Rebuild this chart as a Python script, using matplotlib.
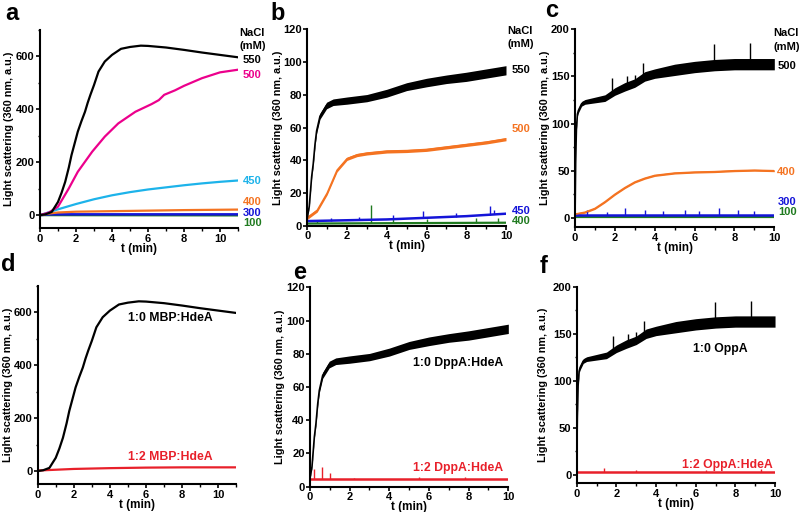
import numpy as np
import matplotlib
matplotlib.use("Agg")
import matplotlib.pyplot as plt
from matplotlib.ticker import MultipleLocator

plt.rcParams['font.family'] = ['Liberation Sans', 'DejaVu Sans']
plt.rcParams['font.weight'] = 'bold'

# colours
BLACK = '#000000'
PINK = '#ec008c'
CYAN = '#1db3ea'
ORANGE = '#f47321'
BLUE = '#1414d8'
GREEN = '#1f7a1f'
RED = '#e8202a'

# ---------------- data ----------------
# panel a / d : MBP
t_mbp550 = [0, 0.3, 0.65, 1.0, 1.2, 1.4, 1.6, 1.75, 1.9, 2.1, 2.3, 2.5, 2.65, 2.8, 3.0, 3.25, 3.6, 4.0, 4.5, 5.0, 5.6, 6.0, 7.0, 8.0, 9.0, 10.0, 11.0]
mbp550 = [0, 3, 12, 50, 85, 126, 180, 227, 265, 316, 355, 391, 425, 455, 492, 543, 581, 606, 629, 636, 641, 640, 634, 625, 615, 606, 597]
t_mbp500 = [0, 0.5, 1.0, 1.6, 2.1, 2.9, 3.6, 4.35, 5.3, 6.2, 6.6, 6.9, 7.5, 8, 9, 10, 11]
mbp500 = [0, 10, 32, 101, 164, 240, 297, 347, 391, 420, 435, 455, 472, 489, 518, 540, 550]
t_mbp450 = [0, 1, 2, 3, 4, 5, 6, 7, 8, 9, 10, 11]
mbp450 = [0, 22, 42, 60, 75, 87, 97, 105, 113, 120, 126, 131]
t_mbp400 = [0, 0.5, 1, 2, 4, 6, 8, 11]
mbp400 = [0, 6, 10, 13, 15, 17, 19, 21]
t_mbp300 = [0, 0.5, 11]
mbp300 = [0, 3, 3]
t_mbp100 = [0, 11]
mbp100 = [0, -1]
t_mbp_hdea = [0, 1, 2, 4, 6, 8, 11]
mbp_hdea = [2, 5, 8, 11, 13, 14, 14]

# panel b / e : DppA
t_dpp550 = [0, 0.1, 0.22, 0.3, 0.39, 0.47, 0.64, 0.97, 1.3, 2, 3, 4, 5, 6, 7, 8, 9, 10]
dpp550 = [5, 12, 30, 38, 50, 58, 67, 73.5, 75.5, 76.5, 78, 81, 85, 87.5, 89.5, 91, 93, 95]
dpp550_noise = [0.3, 0.5, 0.8, 1, 1.2, 1.5, 1.8, 2, 2, 2.2, 2.2, 2.4, 2.4, 2.6, 2.6, 2.8, 2.8, 2.8]
t_dpp500 = [0, 0.5, 1, 1.5, 2, 2.5, 3, 4, 5, 6, 7, 8, 9, 10]
dpp500 = [5, 9.5, 20, 34, 41, 43.3, 44.3, 45.5, 45.8, 46.5, 48, 49.5, 51, 53]
t_dpp450 = [0, 2, 4, 6, 8, 10]
dpp450 = [3, 3.5, 4, 5, 6, 7.5]
spk_t_dpp450 = [1.2, 2.6, 4.3, 5.8, 7.5, 9.2, 9.4]
spk_v_dpp450 = [5, 5.5, 6.5, 9, 8, 12, 10]
t_dpp400 = [0, 10]
dpp400 = [1.5, 2]
spk_t_dpp400 = [0.5, 3.2, 4.3, 6.0, 8.5, 9.6]
spk_v_dpp400 = [3, 13, 4, 4, 5, 5]
t_dpp_hdea = [0, 10]
dpp_hdea = [4.5, 4.5]
spk_t_dpp_hdea = [0.2, 0.6, 1.0, 2.2, 5.5, 7.8]
spk_v_dpp_hdea = [10.5, 12, 8, 5.5, 6, 6]

# panel c / f : OppA
t_opp500 = [0, 0.03, 0.07, 0.12, 0.17, 0.33, 0.5, 1, 1.5, 2, 2.5, 3, 3.5, 4, 5, 6, 7, 8, 9, 10]
opp500 = [0, 60, 95, 110, 114, 121, 123, 125, 127, 134, 139, 143, 150, 153, 157, 160, 162, 163, 163, 163]
opp500_noise = [0, 1.5, 2, 2, 2.5, 2.5, 2.5, 3, 3.5, 4, 4.5, 4.5, 5, 5, 6, 6, 6, 6, 6, 6]
spk_t_opp500 = [1.85, 2.6, 3.0, 3.4, 6.95, 8.8]
spk_v_opp500 = [148, 150, 152, 164, 184, 185]
t_opp400 = [0, 0.5, 1, 1.5, 2, 2.5, 3, 3.5, 4, 5, 6, 7, 8, 9, 10]
opp400 = [4, 6, 10, 17, 25, 32, 38, 42, 45, 47.5, 48.5, 49, 50, 50.5, 50]
t_opp300 = [0, 10]
opp300 = [3, 3]
spk_t_opp300 = [0.6, 1.6, 2.5, 3.5, 4.4, 5.5, 6.2, 7.2, 8.2, 9.0]
spk_v_opp300 = [8, 6, 10, 8, 7, 8, 7, 11, 8, 7]
t_opp100 = [0, 10]
opp100 = [1, 1]
t_opp_hdea = [0, 10]
opp_hdea = [3, 3]
spk_t_opp_hdea = [1.4, 3.0, 6.5, 9.3]
spk_v_opp_hdea = [7, 5, 5, 6]

YLAB = 'Light scattering (360 nm, a.u.)'
W, H = 800, 512


def px(x, y):
    return x / W, 1 - y / H


def style(ax, xmax, ylo, yhi, ymaj, ymin, labx):
    ax.set_xlim(0, xmax)
    ax.set_ylim(ylo, yhi)
    for s in ['top', 'right']:
        ax.spines[s].set_visible(False)
    for s in ['left', 'bottom']:
        ax.spines[s].set_linewidth(1.5)
    ax.xaxis.set_major_locator(MultipleLocator(2))
    ax.xaxis.set_minor_locator(MultipleLocator(1))
    ax.yaxis.set_major_locator(MultipleLocator(ymaj))
    if ymin:
        ax.yaxis.set_minor_locator(MultipleLocator(ymin))
    ax.tick_params(which='major', direction='out', length=3, width=1.2, labelsize=8, pad=0.8)
    ax.tick_params(which='minor', direction='out', length=1.8, width=1)
    ax.set_xlabel('t (min)', fontsize=8.5, fontweight='bold', labelpad=-0.6)
    ax.set_ylabel(YLAB, fontsize=7.8, fontweight='bold')
    ax.yaxis.set_label_coords(labx, 0.5)


def noisy(ax, t, v, n, c):
    t = np.array(t); v = np.array(v); n = np.array(n)
    ax.fill_between(t, v - n, v + n, color=c, lw=0)
    ax.plot(t, v, color=c, lw=1.2)


def spikes(ax, base_t, base_v, st, sv, c):
    b = np.interp(st, base_t, base_v)
    ax.vlines(st, b, sv, color=c, lw=1.0)


fig = plt.figure(figsize=(8, 5.12), dpi=100)

# axes positions from the reference pixels
ax_a = fig.add_axes([0.050, 0.554, 0.2475, 0.3873])
ax_b = fig.add_axes([0.3841, 0.5586, 0.2484, 0.3842])
ax_c = fig.add_axes([0.7188, 0.556, 0.2491, 0.3868])
ax_d = fig.add_axes([0.0471, 0.0541, 0.2483, 0.3879])
ax_e = fig.add_axes([0.3875, 0.0494, 0.2479, 0.3895])
ax_f = fig.add_axes([0.7209, 0.0561, 0.2479, 0.3839])

# ---- a ----
ax = ax_a
ax.plot(t_mbp100, mbp100, color=GREEN, lw=1.6)
ax.plot(t_mbp300, mbp300, color=BLUE, lw=1.8)
ax.plot(t_mbp400, mbp400, color=ORANGE, lw=1.6)
ax.plot(t_mbp450, mbp450, color=CYAN, lw=1.6)
ax.plot(t_mbp500, mbp500, color=PINK, lw=1.6)
ax.plot(t_mbp550, mbp550, color=BLACK, lw=1.6)
style(ax, 11, -50, 700, 200, 100, -0.131)

# ---- b ----
ax = ax_b
ax.plot(t_dpp400, dpp400, color=GREEN, lw=1.6)
spikes(ax, t_dpp400, dpp400, spk_t_dpp400, spk_v_dpp400, GREEN)
ax.plot(t_dpp450, dpp450, color=BLUE, lw=1.8)
spikes(ax, t_dpp450, dpp450, spk_t_dpp450, spk_v_dpp450, BLUE)
noisy(ax, t_dpp500, dpp500, [1.0] * len(dpp500), ORANGE)
noisy(ax, t_dpp550, dpp550, dpp550_noise, BLACK)
style(ax, 10, 0, 120, 20, None, -0.122)

# ---- c ----
ax = ax_c
ax.plot(t_opp100, opp100, color=GREEN, lw=1.6)
ax.plot(t_opp300, opp300, color=BLUE, lw=1.8)
spikes(ax, t_opp300, opp300, spk_t_opp300, spk_v_opp300, BLUE)
noisy(ax, t_opp400, opp400, [1.0] * len(opp400), ORANGE)
noisy(ax, t_opp500, opp500, opp500_noise, BLACK)
spikes(ax, t_opp500, opp500, spk_t_opp500, spk_v_opp500, BLACK)
style(ax, 10, -10, 200, 50, 25, -0.125)

# ---- d ----
ax = ax_d
ax.plot(t_mbp_hdea, mbp_hdea, color=RED, lw=1.6)
ax.plot(t_mbp550, mbp550, color=BLACK, lw=1.6)
style(ax, 11, -50, 700, 200, 100, -0.124)

# ---- e ----
ax = ax_e
ax.plot(t_dpp_hdea, dpp_hdea, color=RED, lw=1.8)
spikes(ax, t_dpp_hdea, dpp_hdea, spk_t_dpp_hdea, spk_v_dpp_hdea, RED)
noisy(ax, t_dpp550, dpp550, dpp550_noise, BLACK)
style(ax, 10, 0, 120, 20, None, -0.127)

# ---- f ----
ax = ax_f
ax.plot(t_opp_hdea, opp_hdea, color=RED, lw=1.8)
spikes(ax, t_opp_hdea, opp_hdea, spk_t_opp_hdea, spk_v_opp_hdea, RED)
noisy(ax, t_opp500, opp500, opp500_noise, BLACK)
spikes(ax, t_opp500, opp500, spk_t_opp500, spk_v_opp500, BLACK)
style(ax, 10, -9, 200, 50, 25, -0.145)


# ---- series labels ----
def lab(x, y, s, c, ha='left', fs=8):
    fig.text(*px(x, y), s, color=c, ha=ha, va='center', fontsize=fs, fontweight='bold')


# a
lab(239, 33, 'NaCl', BLACK)
lab(239, 46, '(mM)', BLACK)
lab(243, 60, '550', BLACK)
lab(243, 75, '500', PINK)
lab(243, 181, '450', CYAN)
lab(243, 202, '400', ORANGE)
lab(243, 213, '300', BLUE)
lab(243, 223, '100', GREEN)
# b
lab(507, 31, 'NaCl', BLACK)
lab(507, 44, '(mM)', BLACK)
lab(512, 70, '550', BLACK)
lab(512, 129, '500', ORANGE)
lab(512, 211, '450', BLUE)
lab(512, 221, '400', GREEN)
# c
lab(773, 33, 'NaCl', BLACK)
lab(773, 47, '(mM)', BLACK)
lab(778, 66, '500', BLACK)
lab(777, 172, '400', ORANGE)
lab(778, 202, '300', BLUE)
lab(778, 212, '100', GREEN)
# d, e, f
lab(170, 318, '1:0 MBP:HdeA', BLACK, 'center', 8.8)
lab(170, 457, '1:2 MBP:HdeA', RED, 'center', 8.8)
lab(458, 363, '1:0 DppA:HdeA', BLACK, 'center', 8.8)
lab(458, 468, '1:2 DppA:HdeA', RED, 'center', 8.8)
lab(720, 349, '1:0 OppA', BLACK, 'center', 8.8)
lab(727, 465, '1:2 OppA:HdeA', RED, 'center', 8.8)

# panel letters
for x, y, s in [(5, 20, 'a'), (270, 20, 'b'), (545, 17, 'c'),
                (1, 271, 'd'), (293, 279, 'e'), (540, 273, 'f')]:
    fig.text(*px(x, y), s, ha='left', va='baseline', fontsize=17, fontweight='bold')

fig.savefig('out.png', dpi=100)
